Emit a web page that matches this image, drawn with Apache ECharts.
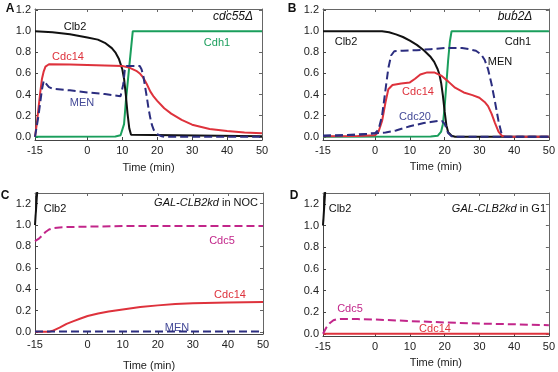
<!DOCTYPE html>
<html>
<head>
<meta charset="utf-8">
<script src="https://cdn.jsdelivr.net/npm/echarts@6/dist/echarts.min.js"></script>
<style>
  html, body { margin: 0; padding: 0; background: #fff; }
  #main { width: 558px; height: 372px; }
</style>
</head>
<body>
<div id="main"></div>
<script>
// tick values shared by all four panels
const timeTicks = [-15, 0, 10, 20, 30, 40, 50];
const levelTicks = [0, 0.2, 0.4, 0.6, 0.8, 1.0, 1.2];

// A: cdc55 delta  ([time, level])
const aClb2 = [[-15, 1], [-10, 0.99], [-5, 0.97], [0, 0.94], [3, 0.92], [5, 0.89], [7, 0.84], [8, 0.8], [9, 0.74], [10, 0.64], [10.5, 0.55], [11, 0.4], [11.5, 0.22], [12, 0.08], [12.5, 0.02], [13, 0.005], [50, 0.005]];
const aCdh1 = [[-15, 0], [8, 0.003], [9.5, 0.015], [10, 0.03], [10.5, 0.12], [11, 0.33], [12, 0.67], [13, 1], [50, 1]];
const aCdc14 = [[-15, 0], [-14.5, 0.12], [-14, 0.27], [-13.5, 0.42], [-13, 0.55], [-12.5, 0.62], [-12, 0.665], [-11.5, 0.683], [-11, 0.687], [-5, 0.685], [0, 0.68], [5, 0.675], [10, 0.67], [12, 0.655], [14, 0.625], [15, 0.6], [16, 0.56], [17, 0.5], [18, 0.43], [19, 0.38], [20, 0.34], [22, 0.27], [24, 0.22], [27, 0.16], [30, 0.115], [35, 0.075], [40, 0.055], [45, 0.042], [50, 0.035]];
const aMEN = [[-15, 0], [-14, 0.2], [-13, 0.45], [-12.5, 0.53], [-12, 0.52], [-11.5, 0.49], [-11, 0.47], [-10, 0.455], [-5, 0.44], [0, 0.42], [5, 0.405], [9.5, 0.385], [10, 0.39], [10.3, 0.5], [10.7, 0.63], [11.2, 0.67], [15, 0.67], [15.5, 0.64], [16, 0.58], [16.5, 0.48], [17, 0.38], [17.5, 0.27], [18, 0.18], [18.5, 0.11], [19, 0.065], [20, 0.025], [21, 0.008], [22, 0], [50, 0]];

// B: bub2 delta
const bClb2 = [[-15, 1], [2, 1], [4, 0.99], [6, 0.97], [8, 0.945], [10, 0.91], [12, 0.87], [14, 0.82], [16, 0.755], [17, 0.71], [18, 0.64], [18.5, 0.59], [19, 0.51], [19.5, 0.39], [20, 0.24], [20.5, 0.11], [21, 0.045], [22, 0.01], [23, 0], [50, 0]];
const bCdh1 = [[-15, 0], [16, 0.003], [18, 0.01], [18.5, 0.02], [19, 0.05], [19.5, 0.12], [20, 0.28], [20.5, 0.5], [21, 0.72], [21.5, 0.9], [22, 1], [50, 1]];
const bCdc14 = [[-15, 0.005], [-5, 0.008], [0, 0.015], [1, 0.05], [2, 0.15], [3, 0.33], [3.8, 0.45], [5, 0.49], [7.5, 0.505], [10, 0.515], [11.5, 0.55], [13, 0.59], [15, 0.61], [17, 0.61], [19, 0.58], [21, 0.525], [23, 0.465], [25.5, 0.42], [28, 0.395], [30, 0.37], [31.5, 0.33], [32.5, 0.29], [33.5, 0.22], [34.5, 0.13], [35.5, 0.05], [36.5, 0.01], [37.5, 0], [50, 0]];
const bMEN = [[-15, 0.01], [-5, 0.02], [0, 0.035], [1, 0.07], [2, 0.2], [3, 0.45], [3.8, 0.65], [4.6, 0.77], [5.5, 0.81], [8, 0.815], [12, 0.82], [16, 0.83], [20, 0.84], [25, 0.84], [27, 0.83], [29, 0.815], [30.5, 0.78], [31.5, 0.73], [32.5, 0.64], [33.5, 0.5], [34.5, 0.33], [35.5, 0.15], [36.3, 0.04], [37, 0], [50, 0]];
const bCdc20 = [[-15, 0.01], [-5, 0.02], [0, 0.035], [3, 0.04], [6, 0.06], [8, 0.08], [10, 0.1], [12, 0.115], [14, 0.13], [16, 0.14], [18, 0.15], [19.2, 0.15], [20, 0.125], [20.5, 0.08], [21, 0.035], [22, 0.005], [23, 0], [50, 0]];

// C: GAL-CLB2kd in NOC
const cClb2 = [[-15, 1], [-14, 1.5]];
const cCdc5 = [[-15, 0.85], [-14, 0.87], [-13, 0.9], [-12, 0.935], [-11, 0.958], [-10, 0.97], [-8, 0.978], [-5, 0.982], [0, 0.985], [10, 0.99], [50, 0.99]];
const cCdc14 = [[-15, 0], [-11, 0], [-10, 0.01], [-8, 0.04], [-6, 0.075], [-4, 0.1], [-2, 0.125], [0, 0.148], [3, 0.172], [6, 0.19], [10, 0.21], [15, 0.232], [20, 0.248], [25, 0.26], [30, 0.267], [40, 0.275], [50, 0.28]];
const cMEN = [[-15, 0.003], [50, 0.003]];

// D: GAL-CLB2kd in G1
const dClb2 = [[-15, 1], [-14, 1.5]];
const dCdc5 = [[-15, 0], [-14.5, 0.03], [-14, 0.06], [-13, 0.1], [-12, 0.125], [-11, 0.135], [-10, 0.138], [-5, 0.136], [0, 0.132], [10, 0.118], [20, 0.105], [30, 0.095], [40, 0.088], [50, 0.08]];
const dCdc14 = [[-15, 0], [50, 0]];

const BLACK = '#111111';
const GREEN = '#1a9e5c';
const RED = '#de323c';
const NAVY = '#2b2d7f';
const MAGENTA = '#c2268a';
const FONT = '"Liberation Sans", Arial, sans-serif';

const grids = [
  { left: 35, top: 9, width: 227, height: 131 },
  { left: 323, top: 9, width: 227, height: 131 },
  { left: 35, top: 193, width: 228, height: 143 },
  { left: 323, top: 193, width: 228, height: 143 }
];
const yRanges = [[-0.03, 1.21], [-0.03, 1.21], [-0.02, 1.3], [-0.02, 1.3]];
const nameGaps = [22, 21, 26, 21];

const xAxes = [];
const yAxes = [];
// bottom + left axes carry the labels
grids.forEach((g, i) => {
  xAxes.push({
    type: 'value', gridIndex: i, min: -15, max: 50, position: 'bottom',
    name: 'Time (min)', nameLocation: 'middle', nameGap: nameGaps[i],
    nameTextStyle: { fontFamily: FONT, fontSize: 11, color: '#222' },
    axisLine: { onZero: false, lineStyle: { color: '#444', width: 1 } },
    axisTick: { inside: true, length: 3, customValues: timeTicks, lineStyle: { color: '#444' } },
    axisLabel: { customValues: timeTicks, margin: 5, fontFamily: FONT, fontSize: 11, color: '#222', formatter: v => String(v) },
    splitLine: { show: false }
  });
  yAxes.push({
    type: 'value', gridIndex: i, min: yRanges[i][0], max: yRanges[i][1], position: 'left',
    axisLine: { show: true, onZero: false, lineStyle: { color: '#444', width: 1 } },
    axisTick: { show: true, inside: true, length: 3, customValues: levelTicks, lineStyle: { color: '#444' } },
    axisLabel: { customValues: levelTicks, margin: 4, fontFamily: FONT, fontSize: 11, color: '#222', formatter: v => v.toFixed(1) },
    splitLine: { show: false }
  });
});
// top + right axes just close the box with inward ticks
grids.forEach((g, i) => {
  xAxes.push({
    type: 'value', gridIndex: i, min: -15, max: 50, position: 'top',
    axisLine: { show: true, onZero: false, lineStyle: { color: '#666', width: 1 } },
    axisTick: { inside: true, length: 3, customValues: timeTicks, lineStyle: { color: '#666' } },
    axisLabel: { show: false }, splitLine: { show: false }
  });
  yAxes.push({
    type: 'value', gridIndex: i, min: yRanges[i][0], max: yRanges[i][1], position: 'right',
    axisLine: { show: true, onZero: false, lineStyle: { color: '#666', width: 1 } },
    axisTick: { show: true, inside: true, length: 3, customValues: levelTicks, lineStyle: { color: '#666' } },
    axisLabel: { show: false }, splitLine: { show: false }
  });
});

function line(name, panel, data, color, dashed) {
  return {
    name: name, type: 'line', xAxisIndex: panel, yAxisIndex: panel,
    data: data, showSymbol: false, smooth: false, clip: true, silent: true,
    lineStyle: { color: color, width: 2, type: dashed ? [8, 4] : 'solid' },
    z: dashed ? 3 : 2
  };
}

const series = [
  line('Cdh1', 0, aCdh1, GREEN), line('Clb2', 0, aClb2, BLACK), line('Cdc14', 0, aCdc14, RED), line('MEN', 0, aMEN, NAVY, true),
  line('Cdh1', 1, bCdh1, GREEN), line('Clb2', 1, bClb2, BLACK), line('Cdc14', 1, bCdc14, RED), line('MEN', 1, bMEN, NAVY, true), line('Cdc20', 1, bCdc20, NAVY, true),
  line('Clb2', 2, cClb2, BLACK), line('Cdc14', 2, cCdc14, RED), line('Cdc5', 2, cCdc5, MAGENTA, true), line('MEN', 2, cMEN, NAVY, true),
  line('Clb2', 3, dClb2, BLACK), line('Cdc14', 3, dCdc14, RED), line('Cdc5', 3, dCdc5, MAGENTA, true)
];

function label(text, x, y, color, opts) {
  opts = opts || {};
  return {
    type: 'text', x: x, y: y, silent: true,
    style: {
      text: text, fill: color, align: opts.align || 'center', verticalAlign: 'middle',
      font: (opts.style || '') + ' ' + (opts.size || 11) + 'px ' + FONT,
      rich: { i: { fontStyle: 'italic', fontSize: 11, fontFamily: FONT, fill: color } }
    }
  };
}

const graphics = [
  label('A', 10, 9, '#111', { style: 'bold', size: 12 }),
  label('B', 292, 9, '#111', { style: 'bold', size: 12 }),
  label('C', 5, 196, '#111', { style: 'bold', size: 12 }),
  label('D', 294, 196, '#111', { style: 'bold', size: 12 }),
  label('cdc55\u0394', 233, 17, '#111', { style: 'italic', size: 12 }),
  label('bub2\u0394', 515, 17, '#111', { style: 'italic', size: 12 }),
  label('{i|GAL-CLB2kd} in NOC', 258, 203, '#111', { align: 'right' }),
  label('{i|GAL-CLB2kd} in G1', 546, 209, '#111', { align: 'right' }),
  // panel A
  label('Clb2', 75, 27, '#111'), label('Cdc14', 68, 57, RED), label('MEN', 82, 103, '#444a98'), label('Cdh1', 217, 43, GREEN),
  // panel B
  label('Clb2', 346, 42, '#111'), label('Cdh1', 518, 42, '#111'), label('MEN', 500, 62, '#111'),
  label('Cdc14', 418, 92, RED), label('Cdc20', 415, 117, '#444a98'),
  // panel C
  label('Clb2', 55, 209, '#111'), label('Cdc5', 222, 241, MAGENTA), label('Cdc14', 230, 295, RED), label('MEN', 177, 328, '#444a98'),
  // panel D
  label('Clb2', 340, 209, '#111'), label('Cdc5', 350, 309, MAGENTA), label('Cdc14', 435, 329, RED)
];

const chart = echarts.init(document.getElementById('main'));
chart.setOption({
  animation: false,
  backgroundColor: '#fff',
  grid: grids,
  xAxis: xAxes,
  yAxis: yAxes,
  series: series,
  graphic: graphics
});
</script>
</body>
</html>
